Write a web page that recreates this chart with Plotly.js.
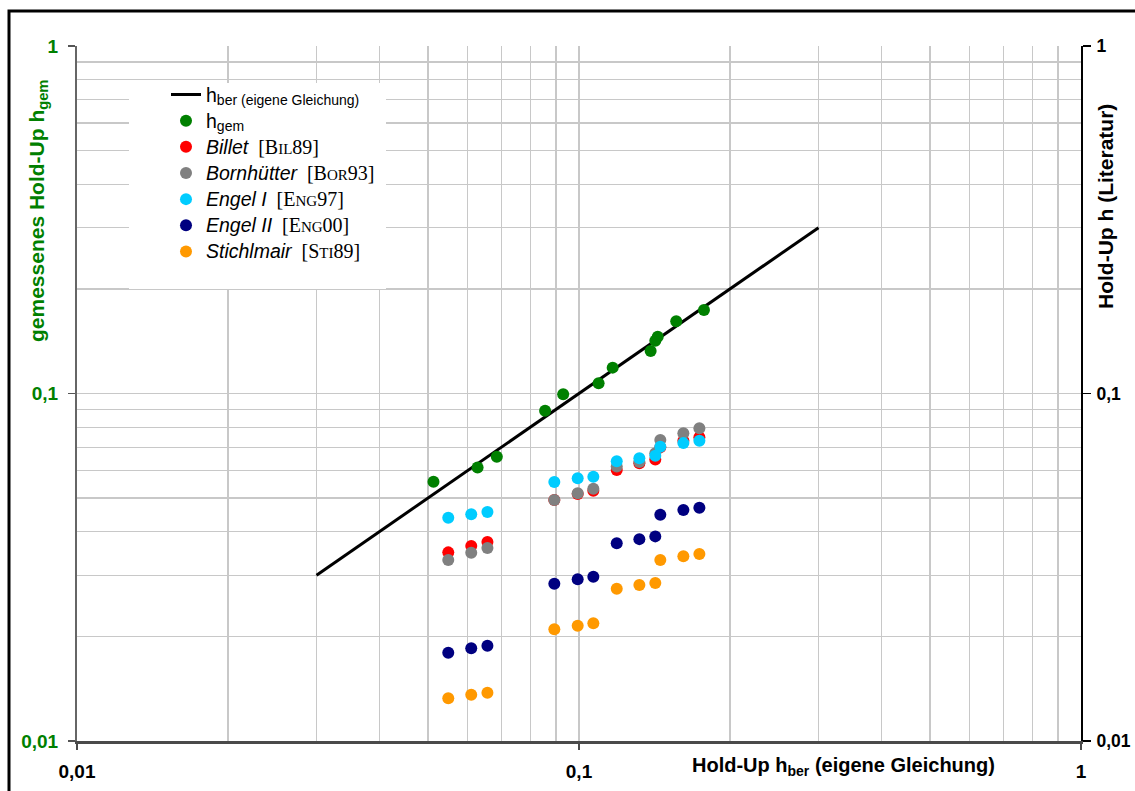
<!DOCTYPE html>
<html>
<head>
<meta charset="utf-8">
<script src="https://cdn.plot.ly/plotly-3.0.1.min.js"></script>
<style>html,body{margin:0;padding:0;background:#fff;}#chart{width:1135px;height:791px;}</style>
</head>
<body>
<div id="chart"></div>
<script>
// ---- data ----
const lineX = [0.03, 0.3];
const lineY = [0.03, 0.3];

const hBer = [0.0513, 0.0628, 0.0686, 0.0856, 0.0930, 0.1094, 0.1167, 0.1389, 0.1419, 0.1435, 0.1562, 0.1774];
const hGem = [0.0557, 0.0612, 0.0658, 0.0892, 0.0995, 0.1070, 0.1187, 0.1326, 0.1419, 0.1457, 0.1614, 0.1739];

const litX = [0.0549, 0.0610, 0.0657, 0.0893, 0.0994, 0.1068, 0.1189, 0.1319, 0.1419, 0.1452, 0.1614, 0.1737];
const billet      = [0.0349, 0.0364, 0.0374, 0.0494, 0.0514, 0.0525, 0.0602, 0.0630, 0.0646, 0.0700, 0.0731, 0.0748];
const bornhuetter = [0.0332, 0.0348, 0.0359, 0.0494, 0.0516, 0.0532, 0.0616, 0.0635, 0.0673, 0.0735, 0.0768, 0.0794];
const engel1      = [0.0439, 0.0449, 0.0456, 0.0556, 0.0570, 0.0576, 0.0638, 0.0651, 0.0662, 0.0703, 0.0720, 0.0731];
const engel2      = [0.01795, 0.01848, 0.01880, 0.02836, 0.02920, 0.02971, 0.0371, 0.0381, 0.0388, 0.0448, 0.0462, 0.0469];
const stichlmair  = [0.01327, 0.01359, 0.01377, 0.02097, 0.02147, 0.02182, 0.02744, 0.02812, 0.02849, 0.0332, 0.0340, 0.0345];

const majorVals = [0.01, 0.1, 1];
const majorText = ['0,01', '0,1', '1'];

// ---- build ----
const minorVals = [];
[0.01, 0.1].forEach(d => { for (let k = 2; k <= 9; k++) minorVals.push(+(d * k).toPrecision(3)); });

const SANS = 'Liberation Sans, Arial, Helvetica, sans-serif';
const SERIF = 'Liberation Serif';
function nm(s) { return '<span style="font-size:19.5px"><i>' + s + '</i></span>'; }
function ref(first, small, rest) {
  return '<span style="font-family:' + SERIF + ';font-size:20px">[' + first +
         '<span style="font-size:15px">' + small + '</span>' + rest + ']</span>';
}
function hsub(s) {
  return '<span style="font-size:19.5px">h</span><sub><span style="font-size:14px">' + s + '</span></sub>';
}

const mk = (color) => ({ color: color, size: 12, line: { width: 0 } });

const traces = [
  { x: lineX, y: lineY, type: 'scatter', mode: 'lines',
    name: hsub('ber (eigene Gleichung)'),
    line: { color: '#000000', width: 3 } },
  { x: hBer, y: hGem, type: 'scatter', mode: 'markers',
    name: hsub('gem'), marker: mk('#008000') },
  { x: litX, y: billet, type: 'scatter', mode: 'markers', yaxis: 'y2',
    name: nm('Billet') + '&nbsp; ' + ref('B', 'IL', '89'), marker: mk('#ff0000') },
  { x: litX, y: bornhuetter, type: 'scatter', mode: 'markers', yaxis: 'y2',
    name: nm('Bornhütter') + '&nbsp; ' + ref('B', 'OR', '93'), marker: mk('#808080') },
  { x: litX, y: engel1, type: 'scatter', mode: 'markers', yaxis: 'y2',
    name: nm('Engel I') + '&nbsp; ' + ref('E', 'NG', '97'), marker: mk('#00ccff') },
  { x: litX, y: engel2, type: 'scatter', mode: 'markers', yaxis: 'y2',
    name: nm('Engel II') + '&nbsp; ' + ref('E', 'NG', '00'), marker: mk('#000080') },
  { x: litX, y: stichlmair, type: 'scatter', mode: 'markers', yaxis: 'y2',
    name: nm('Stichlmair') + '&nbsp; ' + ref('S', 'TI', '89'), marker: mk('#ff9900') }
];

const GRID = '#c8c8c8';
const W = 1135, H = 791, L = 77, R = 54, T = 46, B = 50;
const pw = W - L - R, ph = H - T - B;
const px = v => (v - L) / pw;          // pixel -> paper x
const py = v => (H - B - v) / ph;      // pixel -> paper y

const layout = {
  width: W, height: H,
  margin: { l: L, r: R, t: T, b: B, pad: 0 },
  paper_bgcolor: '#ffffff', plot_bgcolor: 'rgba(0,0,0,0)',
  font: { family: SANS, size: 17, color: '#000' },
  showlegend: true,
  legend: {
    x: px(128), y: py(76.5), xanchor: 'left', yanchor: 'top',
    bgcolor: 'rgba(0,0,0,0)', borderwidth: 0, indentation: 38,
    font: { family: SANS, size: 17.8, color: '#000' },
    tracegroupgap: 0
  },
  xaxis: {
    type: 'log', range: [-2, 0], tickmode: 'array', tickvals: majorVals, ticktext: majorText,
    showgrid: true, gridcolor: GRID, gridwidth: 1.3,
    minor: { tickmode: 'array', tickvals: minorVals, showgrid: true, gridcolor: GRID, gridwidth: 1.3, ticks: '' },
    showline: true, linecolor: '#4a4a4a', linewidth: 3,
    ticks: 'outside', ticklen: 6, tickwidth: 1.5, tickcolor: '#4a4a4a',
    ticklabelstandoff: 5,
    tickfont: { family: SANS, size: 19, color: '#000', weight: 'bold' },
    zeroline: false, fixedrange: true
  },
  yaxis: {
    type: 'log', range: [-2, 0], tickmode: 'array', tickvals: majorVals, ticktext: majorText,
    showgrid: true, gridcolor: GRID, gridwidth: 1.3,
    minor: { tickmode: 'array', tickvals: minorVals, showgrid: true, gridcolor: GRID, gridwidth: 1.3, ticks: '' },
    showline: true, linecolor: '#666666', linewidth: 2,
    ticks: 'outside', ticklen: 7, tickwidth: 1.5, tickcolor: '#555',
    ticklabelstandoff: 6,
    tickfont: { family: SANS, size: 19, color: '#008000', weight: 'bold' },
    zeroline: false, fixedrange: true
  },
  yaxis2: {
    type: 'log', range: [-2, 0], overlaying: 'y', side: 'right', anchor: 'x',
    tickmode: 'array', tickvals: majorVals, ticktext: majorText,
    showgrid: false, showline: true, linecolor: '#000', linewidth: 2,
    ticks: 'outside', ticklen: 8, tickwidth: 1.5, tickcolor: '#000',
    ticklabelstandoff: 2,
    tickfont: { family: SANS, size: 17.5, color: '#000', weight: 'bold' },
    zeroline: false, fixedrange: true
  },
  annotations: [
    { xref: 'paper', yref: 'paper', x: px(38), y: py(211), xanchor: 'center', yanchor: 'middle',
      textangle: -90, showarrow: false, text: 'gemessenes Hold-Up h<sub>gem</sub>',
      font: { family: SANS, size: 21, color: '#008000', weight: 'bold' } },
    { xref: 'paper', yref: 'paper', x: px(1105), y: py(207), xanchor: 'center', yanchor: 'middle',
      textangle: -90, showarrow: false, text: 'Hold-Up h (Literatur)',
      font: { family: SANS, size: 21, color: '#000', weight: 'bold' } },
    { xref: 'paper', yref: 'paper', x: px(843), y: py(767), xanchor: 'center', yanchor: 'middle',
      showarrow: false, text: 'Hold-Up h<sub>ber</sub> (eigene Gleichung)',
      font: { family: SANS, size: 20, color: '#000', weight: 'bold' } }
  ],
  shapes: [
    { type: 'rect', xref: 'paper', yref: 'paper', layer: 'above',
      x0: px(129), x1: px(386), y0: py(289), y1: py(83),
      fillcolor: '#ffffff', line: { width: 0 } },
    { type: 'rect', xref: 'paper', yref: 'paper', layer: 'above',
      x0: px(9), x1: px(1145), y0: py(800), y1: py(11),
      fillcolor: 'rgba(0,0,0,0)', line: { color: '#000', width: 3 } }
  ]
};

Plotly.newPlot('chart', traces, layout, { displayModeBar: false, staticPlot: true });
</script>
</body>
</html>
